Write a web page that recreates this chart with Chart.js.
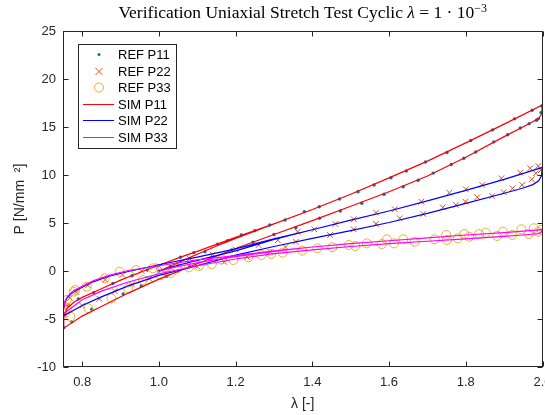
<!DOCTYPE html>
<html>
<head>
<meta charset="utf-8">
<script src="https://cdn.jsdelivr.net/npm/chart.js@4.4.0/dist/chart.umd.min.js"></script>
<style>
html, body { margin: 0; padding: 0; overflow: hidden; background: #fff; }
</style>
</head>
<body>
<canvas id="c" width="548" height="415"></canvas>
<script>
// tick values
const xTicks = [0.8, 1, 1.2, 1.4, 1.6, 1.8, 2]
const yTicks = [-10, -5, 0, 5, 10, 15, 20, 25]

// simulation curves: load 1 -> 2, unload 2 -> 0.75, reload 0.75 -> 2
const simP11X = [1.00, 1.03, 1.06, 1.10, 1.15, 1.20, 1.30, 1.40, 1.50, 1.60, 1.70, 1.80, 1.90, 2.00,
  1.997, 1.99, 1.97, 1.90, 1.80, 1.70, 1.60, 1.50, 1.40, 1.30, 1.20, 1.10, 1.00, 0.92, 0.85, 0.80, 0.75,
  0.752, 0.76, 0.78, 0.80, 0.85, 0.90, 0.95, 1.00, 1.06, 1.10, 1.20, 1.30, 1.40, 1.50, 1.60, 1.70, 1.80, 1.90, 2.00]
const simP11Y = [0.00, 0.50, 1.05, 1.75, 2.60, 3.40, 4.90, 6.40, 8.00, 9.70, 11.45, 13.35, 15.30, 17.30,
  16.3, 15.9, 15.45, 14.0, 11.85, 9.90, 8.25, 6.75, 5.25, 3.80, 2.35, 0.75, -0.85, -2.30, -3.70, -4.70, -6.00,
  -4.80, -3.90, -3.20, -2.75, -1.85, -0.95, -0.15, 0.60, 1.50, 2.05, 3.50, 4.92, 6.40, 8.00, 9.70, 11.45, 13.35, 15.30, 17.30]

const simP22X = [1.00, 1.03, 1.06, 1.10, 1.15, 1.20, 1.30, 1.40, 1.50, 1.60, 1.70, 1.80, 1.90, 2.00,
  1.997, 1.99, 1.975, 1.95, 1.90, 1.80, 1.70, 1.60, 1.50, 1.40, 1.30, 1.20, 1.10, 1.00, 0.92, 0.85, 0.80, 0.75,
  0.751, 0.755, 0.76, 0.77, 0.78, 0.80, 0.83, 0.87, 0.92, 1.00, 1.10, 1.20, 1.30, 1.40, 1.50, 1.60, 1.70, 1.80, 1.90, 2.00]
const simP22Y = [0.00, 0.35, 0.70, 1.10, 1.60, 2.10, 3.30, 4.30, 5.30, 6.25, 7.30, 8.40, 9.55, 10.80,
  9.9, 9.4, 9.0, 8.65, 8.10, 7.05, 6.00, 5.05, 4.20, 3.40, 2.55, 1.65, 0.55, -0.45, -1.55, -2.70, -3.60, -4.70,
  -4.0, -3.3, -2.85, -2.4, -2.1, -1.7, -1.1, -0.55, -0.05, 0.65, 1.45, 2.30, 3.35, 4.30, 5.30, 6.25, 7.30, 8.40, 9.55, 10.80]

const simP33X = [1.00, 1.03, 1.06, 1.10, 1.15, 1.20, 1.30, 1.40, 1.50, 1.60, 1.70, 1.80, 1.90, 2.00,
  1.997, 1.99, 1.95, 1.90, 1.80, 1.70, 1.60, 1.50, 1.40, 1.30, 1.20, 1.10, 1.00, 0.92, 0.85, 0.80, 0.75,
  0.751, 0.755, 0.76, 0.77, 0.78, 0.80, 0.83, 0.87, 0.92, 1.00, 1.10, 1.20, 1.30, 1.40, 1.50, 1.60, 1.70, 1.80, 1.90, 2.00]
const simP33Y = [0.00, 0.30, 0.55, 0.85, 1.20, 1.50, 2.05, 2.50, 2.85, 3.15, 3.45, 3.75, 4.00, 4.30,
  4.05, 3.9, 3.75, 3.60, 3.35, 3.10, 2.85, 2.55, 2.20, 1.80, 1.25, 0.55, -0.30, -1.15, -2.10, -3.00, -4.50,
  -3.9, -3.2, -2.75, -2.3, -2.0, -1.6, -1.0, -0.45, 0.05, 0.55, 1.15, 1.60, 2.10, 2.50, 2.85, 3.15, 3.45, 3.75, 4.00, 4.30]

// reference points
const refP11X = [1.00, 1.03, 1.056, 1.091, 1.12, 1.153, 1.179, 1.215, 1.25, 1.289, 1.329, 1.379, 1.418, 1.471, 1.519, 1.561,
  1.605, 1.645, 1.695, 1.751, 1.813, 1.87, 1.927, 1.973, 1.998,
  1.996, 1.989, 1.984, 1.965, 1.942, 1.909, 1.873, 1.826, 1.795, 1.762, 1.715, 1.676, 1.637, 1.587, 1.529, 1.473,
  1.419, 1.357, 1.30, 1.245, 1.19, 1.135, 1.08, 1.02, 0.954, 0.907, 0.825, 0.773, 0.752,
  0.755, 0.765, 0.79, 0.83, 0.88, 0.93, 0.97]
const refP11Y = [0.00, 0.48, 1.43, 1.91, 2.0, 2.78, 3.16, 3.75, 4.20, 4.79, 5.31, 6.18, 6.70, 7.50, 8.26, 8.96,
  9.72, 10.42, 11.35, 12.35, 13.6, 14.7, 15.85, 16.75, 17.2,
  16.5, 15.85, 15.7, 15.35, 14.9, 14.2, 13.45, 12.4, 11.75, 11.1, 10.2, 9.45, 8.78, 7.99, 7.05, 6.25,
  5.49, 4.51, 3.80, 3.0, 2.2, 1.3, 0.45, -0.55, -1.56, -2.4, -3.99, -5.28, -5.9,
  -4.5, -3.6, -2.9, -2.25, -1.3, -0.5, 0.1]

const refP22X = [0.752, 0.758, 0.768, 0.785, 0.80, 0.815, 0.845, 0.86, 0.885, 0.905, 0.93, 0.955, 0.975, 1.0, 1.02,
  1.05, 1.08, 1.10, 1.14, 1.17, 1.20, 1.23, 1.26, 1.29, 1.31, 1.33,
  1.357, 1.362, 1.405, 1.446, 1.46, 1.508, 1.508, 1.566, 1.566, 1.615, 1.628, 1.684, 1.689, 1.74, 1.757, 1.774,
  1.799, 1.80, 1.83, 1.843, 1.869, 1.893, 1.899, 1.922, 1.942, 1.947, 1.968, 1.972, 1.983, 1.989, 1.996]
const refP22Y = [-4.5, -3.6, -2.8, -2.2, -3.6, -1.5, -2.9, -0.9, -2.1, -0.4, -1.4, 0.0, -0.8, 0.5, -0.2,
  0.75, 1.3, 0.45, 1.7, 0.95, 2.25, 1.45, 2.7, 2.0, 3.2, 2.5,
  3.05, 4.09, 4.34, 3.75, 4.9, 4.34, 5.39, 4.9, 6.08, 6.43, 5.49, 7.22, 5.94, 6.63, 8.16, 6.88,
  7.22, 8.51, 7.68, 8.96, 7.81, 9.66, 8.2, 8.61, 10.24, 8.96, 10.7, 9.55, 10.18, 10.94, 10.5]

const refP33X = [0.752, 0.755, 0.76, 0.76, 0.769, 0.778, 0.782, 0.812, 0.816, 0.859, 0.876, 0.898, 0.92, 0.941, 0.958,
  0.984, 1.005, 1.031, 1.048, 1.078, 1.104, 1.138, 1.164, 1.194, 1.233, 1.267, 1.293, 1.323,
  1.374, 1.413, 1.452, 1.495, 1.512, 1.542, 1.581, 1.594, 1.613, 1.637, 1.667, 1.719, 1.749, 1.751, 1.779, 1.796,
  1.809, 1.835, 1.852, 1.882, 1.897, 1.921, 1.945, 1.964, 1.977, 1.989, 1.997]
const refP33Y = [-3.6, -4.4, -3.02, -3.89, -4.76, -2.15, -1.98, -1.63, -3.89, -0.76, -2.84, -0.07, -1.8, 0.1, -0.94,
  0.28, -0.42, -0.24, 0.28, 0.38, 0.52, 0.73, 1.22, 1.15, 1.42, 1.67, 1.77, 1.91,
  2.12, 2.36, 2.47, 2.71, 2.6, 2.88, 2.81, 3.3, 2.88, 3.3, 3.05, 3.3, 3.75, 3.23, 3.4, 3.85,
  3.57, 3.85, 3.99, 3.65, 4.09, 3.75, 4.34, 3.85, 4.45, 4.09, 4.3]

const AXIS = "#262626"
const SANS = "Liberation Sans"

function pts(xs, ys) {
  return xs.map((x, i) => ({ x: x, y: ys[i] }))
}

// box + inward tick marks like matlab
const axesBox = {
  id: "axesBox",
  afterDatasetsDraw(chart) {
    const { ctx, chartArea: a, scales } = chart
    const L = Math.round(a.left) + 0.5, R = Math.round(a.right) - 0.5
    const T = Math.round(a.top) + 0.5, B = Math.round(a.bottom) - 0.5
    ctx.save()
    ctx.strokeStyle = AXIS
    ctx.lineWidth = 1
    ctx.strokeRect(L, T, R - L, B - T)
    ctx.beginPath()
    xTicks.forEach(v => {
      const px = Math.round(scales.x.getPixelForValue(v)) + 0.5
      ctx.moveTo(px, B); ctx.lineTo(px, B - 5)
      ctx.moveTo(px, T); ctx.lineTo(px, T + 5)
    })
    yTicks.forEach(v => {
      const py = Math.round(scales.y.getPixelForValue(v)) + 0.5
      ctx.moveTo(L, py); ctx.lineTo(L + 5, py)
      ctx.moveTo(R, py); ctx.lineTo(R - 5, py)
    })
    ctx.stroke()
    ctx.restore()
  }
}

const legendBox = {
  id: "legendBox",
  afterDraw(chart) {
    const ctx = chart.ctx
    const x0 = 78.5, y0 = 44.5, w = 98, h = 104
    ctx.save()
    ctx.fillStyle = "#fff"
    ctx.fillRect(x0, y0, w, h)
    ctx.strokeStyle = AXIS
    ctx.lineWidth = 1
    ctx.strokeRect(x0, y0, w, h)
    ctx.font = "13px " + SANS
    ctx.textBaseline = "middle"
    chart.data.datasets.forEach((ds, i) => {
      const y = Math.round(54 + i * 16.6) + 0.5
      const cx = 99
      if (ds.showLine) {
        ctx.strokeStyle = ds.borderColor
        ctx.lineWidth = 1
        ctx.beginPath(); ctx.moveTo(83, y); ctx.lineTo(114, y); ctx.stroke()
      } else if (ds.pointStyle === "crossRot") {
        ctx.strokeStyle = ds.borderColor
        ctx.lineWidth = 1
        ctx.beginPath()
        ctx.moveTo(cx - 3.5, y - 3.5); ctx.lineTo(cx + 3.5, y + 3.5)
        ctx.moveTo(cx + 3.5, y - 3.5); ctx.lineTo(cx - 3.5, y + 3.5)
        ctx.stroke()
      } else if (ds.pointRadius > 3) {
        ctx.strokeStyle = ds.borderColor
        ctx.lineWidth = 1
        ctx.beginPath(); ctx.arc(cx, y, 4.5, 0, Math.PI * 2); ctx.stroke()
      } else {
        ctx.fillStyle = ds.backgroundColor
        ctx.beginPath(); ctx.arc(cx, y, 1.5, 0, Math.PI * 2); ctx.fill()
      }
      ctx.fillStyle = "#000"
      ctx.fillText(ds.label, 118, y + 0.5)
    })
    ctx.restore()
  }
}

const titleText = {
  id: "titleText",
  afterDraw(chart) {
    const ctx = chart.ctx
    const a = chart.chartArea
    const parts = [
      { t: "Verification Uniaxial Stretch Test Cyclic ", f: "17.5px Liberation Serif", dy: 0 },
      { t: "λ", f: "italic 17.5px Liberation Serif", dy: 0 },
      { t: " = 1 · 10", f: "17.5px Liberation Serif", dy: 0 },
      { t: "−3", f: "12px Liberation Serif", dy: -6 }
    ]
    ctx.save()
    let total = 0
    parts.forEach(p => { ctx.font = p.f; p.w = ctx.measureText(p.t).width; total += p.w })
    let x = (a.left + a.right) / 2 - total / 2
    ctx.fillStyle = "#000"
    ctx.textBaseline = "alphabetic"
    parts.forEach(p => {
      ctx.font = p.f
      ctx.fillText(p.t, x, 18 + p.dy)
      x += p.w
    })
    ctx.restore()
  }
}

new Chart(document.getElementById("c"), {
  type: "scatter",
  data: {
    datasets: [
      { label: "REF P11", data: pts(refP11X, refP11Y), pointStyle: "circle", pointRadius: 1.7,
        backgroundColor: "#0072BD", borderColor: "#0072BD", borderWidth: 0, order: 6 },
      { label: "REF P22", data: pts(refP22X, refP22Y), pointStyle: "crossRot", pointRadius: 4,
        borderColor: "#D95319", backgroundColor: "#D95319", borderWidth: 1, order: 5 },
      { label: "REF P33", data: pts(refP33X, refP33Y), pointStyle: "circle", pointRadius: 4.5,
        borderColor: "#EDB120", backgroundColor: "rgba(0,0,0,0)", borderWidth: 1, order: 4 },
      { label: "SIM P11", data: pts(simP11X, simP11Y), showLine: true, borderColor: "#FF0000",
        borderWidth: 1.2, pointRadius: 0, tension: 0, order: 3 },
      { label: "SIM P22", data: pts(simP22X, simP22Y), showLine: true, borderColor: "#0000FF",
        borderWidth: 1.2, pointRadius: 0, tension: 0, order: 2 },
      { label: "SIM P33", data: pts(simP33X, simP33Y), showLine: true, borderColor: "#FF00FF",
        borderWidth: 1.2, pointRadius: 0, tension: 0, order: 1 }
    ]
  },
  options: {
    responsive: false,
    animation: false,
    devicePixelRatio: 1,
    layout: { padding: { top: 31, right: 2, left: 0, bottom: 0 } },
    plugins: { legend: { display: false }, tooltip: { enabled: false } },
    scales: {
      x: {
        type: "linear", min: 0.75, max: 2,
        grid: { display: false, drawTicks: false, tickLength: 0 }, border: { display: false },
        afterBuildTicks: s => { s.ticks = xTicks.map(v => ({ value: v })) },
        afterFit: s => { s.height = 48; s.paddingLeft = 0; s.paddingRight = 0 },
        ticks: { padding: 8, color: AXIS, maxRotation: 0, autoSkip: false, font: { family: SANS, size: 13 } },
        title: { display: true, text: "λ [-]", color: AXIS, font: { family: SANS, size: 14 }, padding: { top: 0, bottom: 2 } }
      },
      y: {
        type: "linear", min: -10, max: 25,
        grid: { display: false, drawTicks: false, tickLength: 0 }, border: { display: false },
        afterBuildTicks: s => { s.ticks = yTicks.map(v => ({ value: v })) },
        afterFit: s => { s.width = 63; s.paddingTop = 0; s.paddingBottom = 0 },
        ticks: { padding: 7, color: AXIS, font: { family: SANS, size: 13 } },
        title: { display: true, text: "P [N/mm  ²]", color: AXIS, font: { family: SANS, size: 14 }, padding: { top: 12, bottom: 0 } }
      }
    }
  },
  plugins: [axesBox, legendBox, titleText]
})
</script>
</body>
</html>
